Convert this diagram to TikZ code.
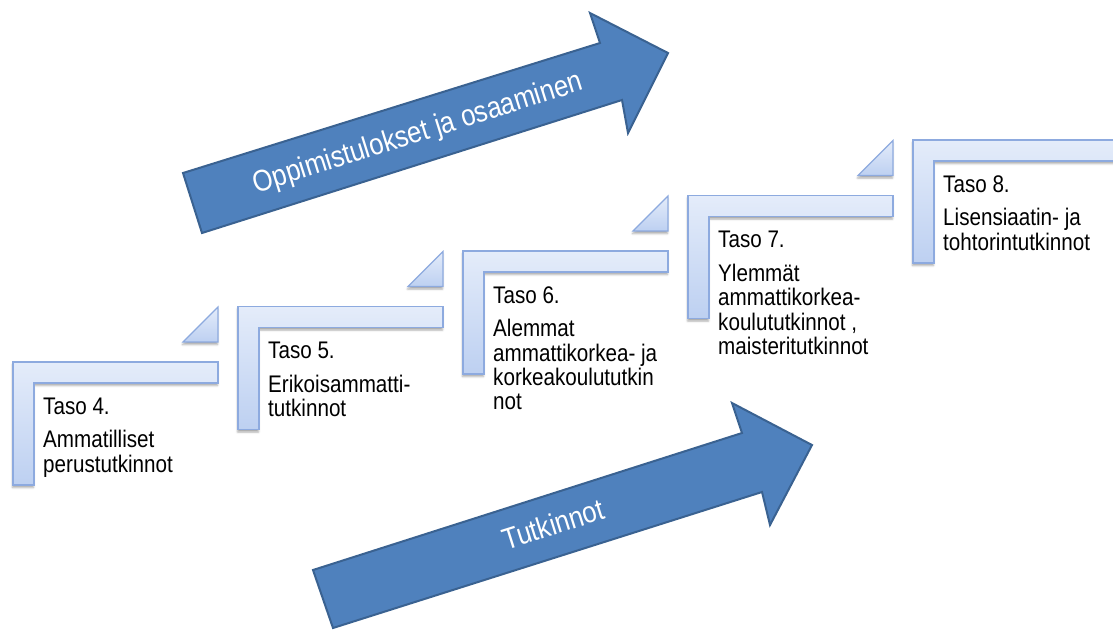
\documentclass[tikz,border=0pt]{standalone}
\usepackage{fontspec}
\setmainfont{Liberation Sans}
\newfontfamily\lab[FakeStretch=0.86]{Liberation Sans}
\usetikzlibrary{shadows.blur}
\definecolor{arrowfill}{HTML}{4F81BD}
\definecolor{arrowline}{HTML}{3A6291}
\definecolor{stepline}{HTML}{8DAADF}
\definecolor{steptop}{HTML}{E4ECFA}
\definecolor{stepbot}{HTML}{BDD0F1}
\tikzset{
  bigarrow/.style={fill=arrowfill, draw=arrowline, line width=2pt, line join=miter},
  arrowtext/.style={text=white, font=\lab\fontsize{30}{32}\selectfont, rotate=17.5, inner sep=0},
  stepshape/.style={draw=stepline, line width=1.2pt, top color=steptop, bottom color=stepbot,
    blur shadow={shadow xshift=-0.5pt, shadow yshift=-2.5pt, shadow blur radius=2pt, shadow opacity=35}},
  steplabel/.style={anchor=base west, inner sep=0, font=\lab\fontsize{24}{24}\selectfont, text=black},
}
\newcommand{\lines}[1]{\begin{tabular}[t]{@{}l@{}}#1\end{tabular}}
\begin{document}
\begin{tikzpicture}[x=1pt, y=-1pt]
\useasboundingbox (0,0) rectangle (1113,630);
\clip (0,0) rectangle (1113,630);
% steps
\foreach \x/\y/\tri in {13/362/1, 238/306.5/1, 463/251/1, 688/195.5/1, 913/140/0}{
  \path[stepshape] (\x,\y) -- ++(205,0) -- ++(0,21) -- ++(-184,0) -- ++(0,102) -- ++(-21,0) -- cycle;
  \ifnum\tri=1
    \path[stepshape] ({\x+205},{\y-55}) -- ({\x+205},{\y-20}) -- ({\x+170},{\y-20}) -- cycle;
  \fi
}
% labels
\node[steplabel] (t4) at (43,414) {\lines{Taso 4.\\[9pt] Ammatilliset\\ perustutkinnot}};
\node[steplabel] (t5) at (268,358.5) {\lines{Taso 5.\\[9pt] Erikoisammatti-\\ tutkinnot}};
\node[steplabel] (t6) at (493,303) {\lines{Taso 6.\\[9pt] Alemmat\\ ammattikorkea- ja\\ korkeakoulututkin\\ not}};
\node[steplabel] (t7) at (718,247.5) {\lines{Taso 7.\\[9pt] Ylemmät\\ ammattikorkea-\\ koulututkinnot ,\\ maisteritutkinnot}};
\node[steplabel] (t8) at (943,192) {\lines{Taso 8.\\[9pt] Lisensiaatin- ja\\ tohtorintutkinnot}};
% arrows
\path[bigarrow] (183,173) -- (600,43) -- (590,13) -- (668,53) -- (628,133) -- (622,100) -- (202,233) -- cycle;
\node[arrowtext] (oppi) at (418,134) {Oppimistulokset ja osaaminen};
\path[bigarrow] (313,570) -- (742,433) -- (732,403) -- (812,445) -- (770,525) -- (762,492) -- (333,628) -- cycle;
\node[arrowtext] (tutk) at (553,524) {Tutkinnot};
\end{tikzpicture}
\end{document}
